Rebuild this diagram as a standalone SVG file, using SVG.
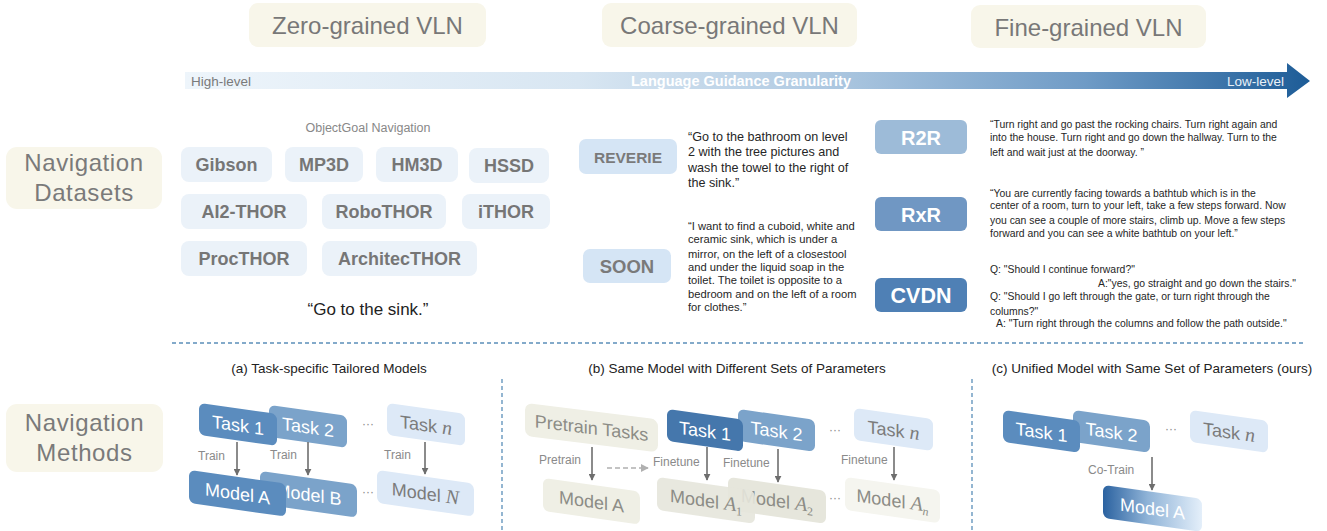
<svg xmlns="http://www.w3.org/2000/svg" width="1327" height="531" viewBox="0 0 1327 531">
  <style>
    .sans { font-family: "Liberation Sans", Arial, sans-serif; }
    .beige { fill: #f8f6ea; }
    .head { font-family: "Liberation Sans", Arial, sans-serif; font-size: 24px; fill: #787878; text-anchor: middle; }
    .side { font-family: "Liberation Sans", Arial, sans-serif; font-size: 24px; fill: #7a7a7a; text-anchor: middle; letter-spacing: 0.6px; }
    .chip { fill: #ebf2f9; }
    .chiptxt { font-family: "Liberation Sans", Arial, sans-serif; font-weight: bold; font-size: 18px; fill: #767676; text-anchor: middle; }
    .ds-light { fill: #d5e5f5; }
    .dstxt { font-family: "Liberation Sans", Arial, sans-serif; font-weight: bold; fill: #7a7a7a; text-anchor: middle; }
    .dswhite { font-family: "Liberation Sans", Arial, sans-serif; font-weight: bold; fill: #ffffff; text-anchor: middle; }
    .quote { font-family: "Liberation Sans", Arial, sans-serif; fill: #262626; }
    .q1 { font-size: 12.6px; }
    .q2 { font-size: 11.2px; }
    .q3 { font-size: 10.4px; }
    .cap { font-family: "Liberation Sans", Arial, sans-serif; font-size: 13.5px; fill: #222222; text-anchor: middle; }
    .note { font-family: "Liberation Sans", Arial, sans-serif; font-size: 12.5px; fill: #888888; }
    .bt { font-family: "Liberation Sans", Arial, sans-serif; font-size: 18px; text-anchor: middle; }
    .w { fill: #ffffff; }
    .g { fill: #7b7b7b; }
    .gl { fill: #8c8c86; }
    .math { font-family: "Liberation Serif", "Times New Roman", serif; font-style: italic; font-size: 20px; }
    .sub { font-family: "Liberation Serif", "Times New Roman", serif; font-size: 12px; }
    .dark { fill: #4577ac; }
    .mid { fill: #5b8cbe; }
    .soft { fill: #7ba3ca; }
    .pale { fill: #dde9f7; }
    .gray1 { fill: #efefe5; }
    .gray2 { fill: #e6e6dc; }
    .gray3 { fill: #f5f5ef; }
    .lbl { font-family: "Liberation Sans", Arial, sans-serif; font-size: 12px; fill: #8a8a8a; }
    .dots { font-family: "Liberation Sans", Arial, sans-serif; font-size: 12px; fill: #8a8a8a; text-anchor: middle; }
    .link { stroke: #6e6e6e; stroke-width: 1.6; fill: none; marker-end: url(#arr); }
    .sep { stroke: #5b8fb9; stroke-width: 1.3; stroke-dasharray: 4 3; fill: none; }
  </style>
  <defs>
    <linearGradient id="granularity" x1="0" y1="0" x2="1" y2="0">
      <stop offset="0" stop-color="#eef5fb"/>
      <stop offset="0.35" stop-color="#d8e6f2"/>
      <stop offset="0.55" stop-color="#b3cce3"/>
      <stop offset="0.8" stop-color="#6f9bc6"/>
      <stop offset="1" stop-color="#1d5c97"/>
    </linearGradient>
    <linearGradient id="unified" x1="0" y1="0" x2="1" y2="0">
      <stop offset="0" stop-color="#2b62a0"/>
      <stop offset="0.45" stop-color="#8fb3d7"/>
      <stop offset="1" stop-color="#e4effa"/>
    </linearGradient>
    <marker id="arr" viewBox="0 0 10 10" refX="9" refY="5" markerWidth="7" markerHeight="7" markerUnits="userSpaceOnUse" orient="auto">
      <path d="M0,0 L10,5 L0,10 z" fill="#6e6e6e"/>
    </marker>
    <marker id="arr-light" viewBox="0 0 10 10" refX="9" refY="5" markerWidth="8" markerHeight="8" markerUnits="userSpaceOnUse" orient="auto">
      <path d="M0,0 L10,5 L0,10 z" fill="#b0b0b0"/>
    </marker>
  </defs>

  <!-- granularity categories -->
  <g id="zero-grained">
    <rect x="249" y="3" width="237" height="44" rx="9" class="beige"/>
    <text x="367.5" y="34" class="head">Zero-grained VLN</text>
  </g>
  <g id="coarse-grained">
    <rect x="602" y="3" width="255" height="44" rx="9" class="beige"/>
    <text x="729.5" y="34" class="head">Coarse-grained VLN</text>
  </g>
  <g id="fine-grained">
    <rect x="971" y="5" width="235" height="43" rx="9" class="beige"/>
    <text x="1088.5" y="36" class="head">Fine-grained VLN</text>
  </g>

  <!-- granularity axis -->
  <g id="granularity-axis">
    <path d="M185,72 H1287 V63 L1310,81 L1287,98 V89 H185 Z" fill="url(#granularity)"/>
    <text x="191" y="86" class="sans" font-size="13.5" fill="#7a7a7a">High-level</text>
    <text x="741" y="86" class="sans" font-size="14.5" font-weight="bold" fill="#ffffff" text-anchor="middle">Language Guidance Granularity</text>
    <text x="1284" y="86" class="sans" font-size="13.5" fill="#e9f0f7" text-anchor="end">Low-level</text>
  </g>

  <!-- row labels -->
  <g id="navigation-datasets">
    <rect x="6" y="147" width="156" height="62" rx="11" class="beige"/>
    <text x="84" y="171" class="side">Navigation</text>
    <text x="84" y="201" class="side">Datasets</text>
  </g>
  <g id="navigation-methods">
    <rect x="6" y="404" width="157" height="68" rx="11" class="beige"/>
    <text x="84.5" y="431" class="side">Navigation</text>
    <text x="84.5" y="461" class="side">Methods</text>
  </g>

  <!-- zero-grained datasets -->
  <g id="objectgoal">
    <text x="368" y="132" class="note" text-anchor="middle">ObjectGoal Navigation</text>
    <g id="gibson"><rect x="181" y="147" width="91" height="35" rx="8" class="chip"/><text x="226.5" y="171" class="chiptxt">Gibson</text></g>
    <g id="mp3d"><rect x="285" y="147" width="78" height="35" rx="8" class="chip"/><text x="324" y="171" class="chiptxt">MP3D</text></g>
    <g id="hm3d"><rect x="376" y="147" width="82" height="35" rx="8" class="chip"/><text x="417" y="171" class="chiptxt">HM3D</text></g>
    <g id="hssd"><rect x="469" y="148" width="80" height="35" rx="8" class="chip"/><text x="509" y="172" class="chiptxt">HSSD</text></g>
    <g id="ai2thor"><rect x="181" y="194" width="126" height="35" rx="8" class="chip"/><text x="244" y="218" class="chiptxt">AI2-THOR</text></g>
    <g id="robothor"><rect x="322" y="194" width="124" height="35" rx="8" class="chip"/><text x="384" y="218" class="chiptxt">RoboTHOR</text></g>
    <g id="ithor"><rect x="462" y="194" width="88" height="35" rx="8" class="chip"/><text x="506" y="218" class="chiptxt">iTHOR</text></g>
    <g id="procthor"><rect x="181" y="241" width="126" height="35" rx="8" class="chip"/><text x="244" y="265" class="chiptxt">ProcTHOR</text></g>
    <g id="architecthor"><rect x="322" y="241" width="155" height="35" rx="8" class="chip"/><text x="399.5" y="265" class="chiptxt">ArchitecTHOR</text></g>
    <text x="368" y="315" class="sans" font-size="17" fill="#222222" text-anchor="middle">“Go to the sink.”</text>
  </g>

  <!-- coarse-grained datasets -->
  <g id="reverie">
    <rect x="579" y="139" width="98" height="35" rx="7" class="ds-light"/>
    <text x="628" y="163" class="dstxt" font-size="15.5">REVERIE</text>
    <text class="quote q1">
      <tspan x="688" y="141">“Go to the bathroom on level</tspan>
      <tspan x="688" y="156">2 with the tree pictures and</tspan>
      <tspan x="688" y="172">wash the towel to the right of</tspan>
      <tspan x="688" y="187">the sink.”</tspan>
    </text>
  </g>
  <g id="soon">
    <rect x="583" y="249" width="88" height="34" rx="7" class="ds-light"/>
    <text x="627" y="273" class="dstxt" font-size="18.5">SOON</text>
    <text class="quote q2">
      <tspan x="688" y="230">“I want to find a cuboid, white and</tspan>
      <tspan x="688" y="243">ceramic sink, which is under a</tspan>
      <tspan x="688" y="258">mirror, on the left of a closestool</tspan>
      <tspan x="688" y="271">and under the liquid soap in the</tspan>
      <tspan x="688" y="284">toilet. The toilet is opposite to a</tspan>
      <tspan x="688" y="298">bedroom and on the left of a room</tspan>
      <tspan x="688" y="311">for clothes.”</tspan>
    </text>
  </g>

  <!-- fine-grained datasets -->
  <g id="r2r">
    <rect x="875" y="120" width="92" height="34" rx="6" fill="#9dbbd8"/>
    <text x="921" y="145" class="dswhite" font-size="20">R2R</text>
    <text class="quote q3">
      <tspan x="990" y="128">“Turn right and go past the rocking chairs. Turn right again and</tspan>
      <tspan x="990" y="141">into the house. Turn right and go down the hallway. Turn to the</tspan>
      <tspan x="990" y="156">left and wait just at the doorway. ”</tspan>
    </text>
  </g>
  <g id="rxr">
    <rect x="875" y="197" width="92" height="34" rx="6" fill="#7097c3"/>
    <text x="921" y="222" class="dswhite" font-size="20">RxR</text>
    <text class="quote q3">
      <tspan x="990" y="197">“You are currently facing towards a bathtub which is in the</tspan>
      <tspan x="990" y="209">center of a room, turn to your left, take a few steps forward. Now</tspan>
      <tspan x="990" y="224">you can see a couple of more stairs, climb up. Move a few steps</tspan>
      <tspan x="990" y="237">forward and you can see a white bathtub on your left.”</tspan>
    </text>
  </g>
  <g id="cvdn">
    <rect x="875" y="278" width="92" height="34" rx="6" fill="#4f80b5"/>
    <text x="921" y="303" class="dswhite" font-size="21.5">CVDN</text>
    <text class="quote q3">
      <tspan x="990" y="273">Q: "Should I continue forward?"</tspan>
      <tspan x="1098" y="287">A:"yes, go straight and go down the stairs."</tspan>
      <tspan x="990" y="300">Q: "Should I go left through the gate, or turn right through the</tspan>
      <tspan x="990" y="315">columns?"</tspan>
      <tspan x="996" y="327">A: "Turn right through the columns and follow the path outside."</tspan>
    </text>
  </g>

  <!-- section separators -->
  <g id="separators">
    <path d="M172,343 H1305" class="sep"/>
    <path d="M502,379 V531" class="sep"/>
    <path d="M972,379 V531" class="sep"/>
  </g>

  <!-- panel captions -->
  <text x="329" y="373" class="cap">(a) Task-specific Tailored Models</text>
  <text x="737" y="373" class="cap">(b) Same Model with Different Sets of Parameters</text>
  <text x="1152" y="373" class="cap">(c) Unified Model with Same Set of Parameters (ours)</text>

  <!-- (a) task-specific models -->
  <g id="a-task2" transform="translate(269,405) skewY(8)"><rect width="78" height="32" rx="6" class="soft"/><text x="39" y="23" class="bt w">Task 2</text></g>
  <g id="a-task1" transform="translate(199,403) skewY(8)"><rect width="78" height="32" rx="6" class="mid"/><text x="39" y="23" class="bt w">Task 1</text></g>
  <g id="a-taskn" transform="translate(387,403) skewY(8)"><rect width="78" height="32" rx="6" class="pale"/><text x="39" y="23" class="bt g">Task <tspan class="math">n</tspan></text></g>
  <g id="a-modelb" transform="translate(260,471) skewY(8)"><rect width="97" height="33" rx="6" class="soft"/><text x="48.5" y="23" class="bt w">Model B</text></g>
  <g id="a-modela" transform="translate(189,470) skewY(8)"><rect width="97" height="33" rx="6" class="mid"/><text x="48.5" y="23" class="bt w">Model A</text></g>
  <g id="a-modeln" transform="translate(377,470) skewY(8)"><rect width="97" height="33" rx="6" class="pale"/><text x="48.5" y="23" class="bt g">Model <tspan class="math">N</tspan></text></g>
  <text x="368" y="428" class="dots">···</text>
  <text x="368" y="496" class="dots">···</text>

  <!-- (b) pretrain then finetune -->
  <g id="b-pretrain" transform="translate(525,403) skewY(7)"><rect width="133" height="33" rx="7" class="gray1"/><text x="66.5" y="23" class="bt gl" font-size="18.5">Pretrain Tasks</text></g>
  <g id="b-task2" transform="translate(738,409) skewY(8)"><rect width="77" height="32" rx="6" class="soft"/><text x="38.5" y="23" class="bt w">Task 2</text></g>
  <g id="b-task1" transform="translate(667,409) skewY(8)"><rect width="76" height="32" rx="6" class="dark"/><text x="38" y="23" class="bt w">Task 1</text></g>
  <g id="b-taskn" transform="translate(854,408) skewY(8)"><rect width="79" height="32" rx="6" class="pale"/><text x="39.5" y="23" class="bt g">Task <tspan class="math">n</tspan></text></g>
  <g id="b-modela" transform="translate(543,478) skewY(8)"><rect width="97" height="33" rx="6" class="gray1"/><text x="48.5" y="23" class="bt gl">Model A</text></g>
  <g id="b-modela2" transform="translate(728,477) skewY(8)"><rect width="98" height="33" rx="6" class="gray2"/><text x="49" y="23" class="bt gl">Model <tspan class="math">A</tspan><tspan class="sub" dy="4">2</tspan></text></g>
  <g id="b-modela1" transform="translate(657,477) skewY(8)"><rect width="98" height="33" rx="6" class="gray2" opacity="0.9"/><text x="49" y="23" class="bt gl">Model <tspan class="math">A</tspan><tspan class="sub" dy="4">1</tspan></text></g>
  <g id="b-modelan" transform="translate(845,477) skewY(8)"><rect width="95" height="33" rx="6" class="gray3"/><text x="47.5" y="23" class="bt gl">Model <tspan class="math">A</tspan><tspan class="sub" dy="4" font-style="italic">n</tspan></text></g>
  <text x="835" y="434" class="dots">···</text>
  <text x="835" y="502" class="dots">···</text>

  <!-- (c) unified co-training -->
  <g id="c-task2" transform="translate(1073,410) skewY(8)"><rect width="77" height="32" rx="6" class="soft"/><text x="38.5" y="23" class="bt w">Task 2</text></g>
  <g id="c-task1" transform="translate(1003,410) skewY(8)"><rect width="77" height="32" rx="6" class="mid"/><text x="38.5" y="23" class="bt w">Task 1</text></g>
  <g id="c-taskn" transform="translate(1190,410) skewY(8)"><rect width="78" height="32" rx="6" class="pale"/><text x="39" y="23" class="bt g">Task <tspan class="math">n</tspan></text></g>
  <g id="c-modela" transform="translate(1103,485) skewY(8)"><rect width="99" height="33" rx="6" fill="url(#unified)"/><text x="49.5" y="23" class="bt w">Model A</text></g>
  <text x="1171" y="433" class="dots">···</text>

  <!-- connectors -->
  <g id="connectors">
    <path d="M237,442 V475" class="link"/>
    <path d="M308,442 V475" class="link"/>
    <path d="M425,442 V474" class="link"/>
    <text x="198" y="460" class="lbl">Train</text>
    <text x="270" y="459" class="lbl">Train</text>
    <text x="384" y="459" class="lbl">Train</text>

    <path d="M592,447 V480" class="link"/>
    <path d="M707,447 V480" class="link"/>
    <path d="M778,449 V482" class="link"/>
    <path d="M894,447 V480" class="link"/>
    <path d="M607,468 H648" stroke="#b0b0b0" stroke-width="1.6" stroke-dasharray="5 3" fill="none" marker-end="url(#arr-light)"/>
    <text x="539" y="464" class="lbl">Pretrain</text>
    <text x="653" y="466" class="lbl">Finetune</text>
    <text x="723" y="467" class="lbl">Finetune</text>
    <text x="841" y="464" class="lbl">Finetune</text>

    <path d="M1152,457 V490" class="link"/>
    <text x="1088" y="474" class="lbl">Co-Train</text>
  </g>
</svg>
